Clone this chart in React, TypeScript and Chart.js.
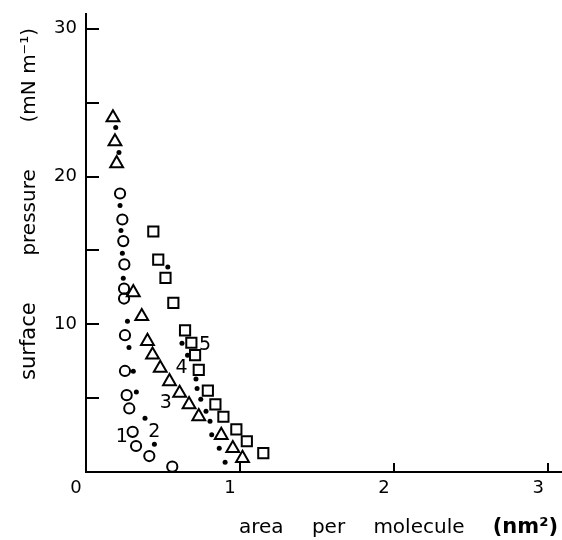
import { useEffect, useRef } from 'react';
import { Chart, registerables } from 'chart.js';

Chart.register(...registerables);

// Curve 1: open circles
const curve1Area = [0.221, 0.236, 0.242, 0.249, 0.247, 0.247, 0.253, 0.253, 0.264, 0.281, 0.303, 0.325, 0.411, 0.56];
const curve1Pressure = [18.85, 17.09, 15.63, 14.05, 12.41, 11.74, 9.26, 6.84, 5.2, 4.3, 2.72, 1.76, 1.08, 0.36];

// Curve 2: small dots
const curve2Area = [0.193, 0.214, 0.221, 0.227, 0.236, 0.242, 0.269, 0.279, 0.307, 0.327, 0.383, 0.444];
const curve2Pressure = [23.31, 21.62, 18.04, 16.35, 14.8, 13.11, 10.2, 8.43, 6.82, 5.41, 3.63, 1.87];

// Curve 3: open triangles
const curve3Area = [0.175, 0.188, 0.199, 0.307, 0.362, 0.399, 0.432, 0.482, 0.542, 0.608, 0.669, 0.732, 0.878, 0.953, 1.016];
const curve3Pressure = [23.99, 22.36, 20.88, 12.15, 10.54, 8.85, 7.93, 7.03, 6.13, 5.34, 4.57, 3.76, 2.49, 1.6, 0.93];

// Curve 4: small dots
const curve4Area = [0.531, 0.623, 0.659, 0.714, 0.721, 0.745, 0.779, 0.805, 0.816, 0.865, 0.903];
const curve4Pressure = [13.87, 8.72, 7.91, 6.3, 5.66, 4.92, 4.11, 3.43, 2.52, 1.6, 0.66];

// Curve 5: open squares
const curve5Area = [0.437, 0.469, 0.516, 0.567, 0.643, 0.684, 0.708, 0.732, 0.791, 0.84, 0.892, 0.976, 1.044, 1.151];
const curve5Pressure = [16.28, 14.37, 13.14, 11.45, 9.59, 8.75, 7.91, 6.91, 5.51, 4.58, 3.74, 2.89, 2.08, 1.28];

// Curve number labels placed in data coordinates
const curveLabels = ['1', '2', '3', '4', '5'];
const curveLabelArea = [0.232, 0.444, 0.518, 0.621, 0.773];
const curveLabelPressure = [2.39, 2.72, 4.68, 7.01, 8.58];

const xMin = 0;
const xMax = 3.09;
const yMin = 0;
const yMax = 31;
const xTickValues = [0, 1, 2, 3];
const yTickValues = [0, 5, 10, 15, 20, 25, 30];
const yLabelledTicks = [10, 20, 30];

const xTitleWords = ['area', 'per', 'molecule'];
const xTitleUnit = '(nm²)';
const yTitleWords = ['surface', 'pressure', '(mN m⁻¹)'];

const FONT = '"DejaVu Sans", sans-serif';
const W = 562;
const H = 540;

const toPoints = (xs: number[], ys: number[]) => xs.map((x, i) => ({ x, y: ys[i] }));

const drawSpread = (ctx: CanvasRenderingContext2D, words: string[], fonts: string[], start: number, length: number) => {
  const widths = words.map((w, i) => {
    ctx.font = fonts[i];
    return ctx.measureText(w).width;
  });
  const total = widths.reduce((a, b) => a + b, 0);
  const gap = (length - total) / (words.length - 1);
  let pos = start;
  words.forEach((w, i) => {
    ctx.font = fonts[i];
    ctx.fillText(w, pos, 0);
    pos += widths[i] + gap;
  });
};

const decorPlugin = {
  id: 'decor',
  afterDraw(chart: any) {
    const { ctx, chartArea } = chart;
    const xs = chart.scales.x;
    const ys = chart.scales.y;
    ctx.save();
    ctx.strokeStyle = '#000';
    ctx.fillStyle = '#000';
    ctx.lineWidth = 2;
    // inward ticks on y axis
    ys.ticks.forEach((t: any) => {
      if (t.value > 0) {
        const py = Math.round(ys.getPixelForValue(t.value));
        ctx.beginPath();
        ctx.moveTo(chartArea.left, py);
        ctx.lineTo(chartArea.left + 13, py);
        ctx.stroke();
      }
    });
    // inward ticks on x axis
    xs.ticks.forEach((t: any) => {
      if (t.value > 0) {
        const px = Math.round(xs.getPixelForValue(t.value));
        ctx.beginPath();
        ctx.moveTo(px, chartArea.bottom);
        ctx.lineTo(px, chartArea.bottom - 9);
        ctx.stroke();
      }
    });
    // curve numbers
    ctx.font = `19px ${FONT}`;
    ctx.textAlign = 'center';
    ctx.textBaseline = 'middle';
    curveLabels.forEach((lab, i) => {
      ctx.fillText(lab, xs.getPixelForValue(curveLabelArea[i]), ys.getPixelForValue(curveLabelPressure[i]));
    });
    ctx.textAlign = 'left';
    ctx.textBaseline = 'middle';
    // x axis title
    ctx.save();
    ctx.translate(0, 528);
    drawSpread(
      ctx,
      [...xTitleWords, xTitleUnit],
      [`20px ${FONT}`, `20px ${FONT}`, `20px ${FONT}`, `bold 21px ${FONT}`],
      239,
      319,
    );
    ctx.restore();
    // y axis title
    ctx.save();
    ctx.translate(30, 0);
    ctx.rotate(-Math.PI / 2);
    drawSpread(ctx, yTitleWords, [`21px ${FONT}`, `20px ${FONT}`, `20px ${FONT}`], -380, 352);
    ctx.restore();
    ctx.restore();
  },
};

export default function App() {
  const canvasRef = useRef<HTMLCanvasElement | null>(null);

  useEffect(() => {
    if (!canvasRef.current) return;
    const hollow = 'rgba(0,0,0,0)';
    const resetPadding = (s: any) => {
      s.paddingTop = 0;
      s.paddingBottom = 0;
      s.paddingLeft = 0;
      s.paddingRight = 0;
    };
    const chart = new Chart(canvasRef.current, {
      type: 'scatter',
      data: {
        datasets: [
          {
            label: '1',
            data: toPoints(curve1Area, curve1Pressure),
            pointStyle: 'circle',
            pointRadius: 5.1,
            pointBorderWidth: 2,
            pointBorderColor: '#000',
            pointBackgroundColor: hollow,
          },
          {
            label: '2',
            data: toPoints(curve2Area, curve2Pressure),
            pointStyle: 'circle',
            pointRadius: 2.5,
            pointBorderWidth: 0,
            pointBackgroundColor: '#000',
          },
          {
            label: '3',
            data: toPoints(curve3Area, curve3Pressure),
            pointStyle: 'triangle',
            pointRadius: 7.4,
            pointBorderWidth: 2,
            pointBorderColor: '#000',
            pointBackgroundColor: hollow,
          },
          {
            label: '4',
            data: toPoints(curve4Area, curve4Pressure),
            pointStyle: 'circle',
            pointRadius: 2.5,
            pointBorderWidth: 0,
            pointBackgroundColor: '#000',
          },
          {
            label: '5',
            data: toPoints(curve5Area, curve5Pressure),
            pointStyle: 'rect',
            pointRadius: 7.2,
            pointBorderWidth: 2,
            pointBorderColor: '#000',
            pointBackgroundColor: hollow,
          },
        ],
      },
      options: {
        animation: false,
        responsive: false,
        maintainAspectRatio: false,
        devicePixelRatio: 1,
        layout: { autoPadding: false, padding: { top: 14, right: 0, left: 0, bottom: 0 } },
        plugins: { legend: { display: false }, tooltip: { enabled: false } },
        scales: {
          x: {
            type: 'linear',
            min: xMin,
            max: xMax,
            afterBuildTicks: (s: any) => {
              s.ticks = xTickValues.map((v) => ({ value: v }));
            },
            afterFit: (s: any) => {
              s.height = 68;
              resetPadding(s);
            },
            grid: { display: false, drawTicks: false },
            border: { display: true, color: '#000', width: 2 },
            ticks: {
              padding: 6,
              labelOffset: -10,
              color: '#000',
              font: { family: FONT, size: 18 },
              callback: (v: any) => String(v),
            },
          },
          y: {
            type: 'linear',
            min: yMin,
            max: yMax,
            afterBuildTicks: (s: any) => {
              s.ticks = yTickValues.map((v) => ({ value: v }));
            },
            afterFit: (s: any) => {
              s.width = 86;
              resetPadding(s);
            },
            grid: { display: false, drawTicks: false },
            border: { display: true, color: '#000', width: 2 },
            ticks: {
              padding: 9,
              color: '#000',
              font: { family: FONT, size: 18 },
              callback: (v: any) => (yLabelledTicks.includes(v) ? String(v) : ''),
            },
          },
        },
      },
      plugins: [decorPlugin],
    });
    return () => chart.destroy();
  }, []);

  return (
    <div style={{ position: 'fixed', left: 0, top: 0, width: W, height: H, background: '#fff' }}>
      <canvas ref={canvasRef} width={W} height={H} style={{ display: 'block', width: W, height: H }} />
    </div>
  );
}
